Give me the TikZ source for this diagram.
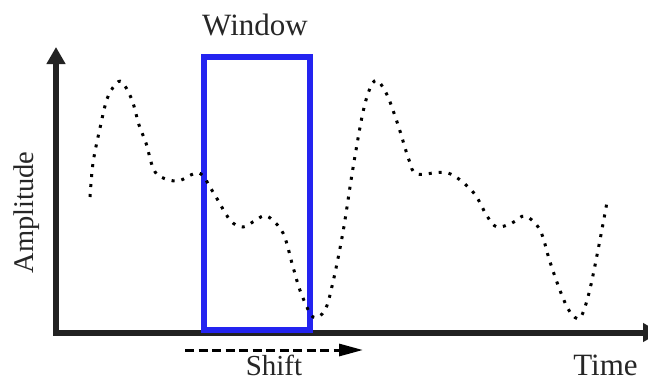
\documentclass[tikz,border=0pt]{standalone}
\usepackage{fontspec}
\setmainfont{Liberation Serif}
\usetikzlibrary{arrows.meta}
\definecolor{axisgray}{RGB}{34,34,34}
\definecolor{winblue}{RGB}{35,35,240}
\tikzset{
  axisline/.style={draw=axisgray, line width=6pt, line join=miter,
    {Triangle[length=17pt,width=18pt]}-{Triangle[length=17pt,width=18pt]}},
  windowbox/.style={draw=winblue, line width=6pt, line join=miter},
  signal/.style={draw=black, line width=3pt, dash pattern=on 3pt off 7pt},
  shiftarrow/.style={draw=black, line width=3pt, dash pattern=on 9pt off 4.5pt,
    -{Triangle[length=24pt,width=12pt]}},
  biglabel/.style={font=\fontsize{31}{36}\selectfont, text=black!85, inner sep=0pt, anchor=base, text depth=0pt},
  shiftlabel/.style={font=\fontsize{29}{34}\selectfont, text=black!85, inner sep=0pt, anchor=base, text depth=0pt},
  amplabel/.style={font=\fontsize{28.5}{34}\selectfont, text=black!85, inner sep=0pt, anchor=base, rotate=90}
}
\begin{document}
\begin{tikzpicture}[x=1pt,y=-1pt]
\clip (0,0) rectangle (648,381);
\fill[white] (0,0) rectangle (648,381);
% axes
\coordinate (ytip) at (56,47);
\coordinate (O) at (56,332.5);
\coordinate (xtip) at (660,332.5);
\draw[axisline] (ytip) -- (O) -- (xtip);
% window
\coordinate (wnw) at (204,56.5);
\coordinate (wse) at (309.5,330);
\draw[windowbox] (wnw) rectangle (wse);
% signal
\draw[signal] plot[smooth, tension=0.55] coordinates {
(90,197) (93,163) (100,128) (107,99) (115,85) (122,82) (132,100) (139,125)
(146,143) (153,168) (161,177) (178,181) (199,173) (213,192) (230,220) (243,227)
(256,220) (267,216) (283,233) (293,267) (301,293) (313,317) (325,310) (333,282)
(343,232) (353,168) (363,112) (371,86) (378,81) (388,97) (399,128) (409,160)
(417,174) (448,173) (473,192) (487,216) (497,227) (512,223) (525,216) (540,230)
(550,262) (561,293) (570,312) (580,318) (589,293) (599,245) (607,202)};
% shift arrow
\coordinate (sstart) at (185,350);
\coordinate (send) at (363,350);
\draw[shiftarrow] (sstart) -- (send);
% labels
\node[biglabel] (window) at (255,35) {Window};
\node[biglabel] (time) at (605.5,375) {Time};
\node[shiftlabel] (shift) at (274,375) {Shift};
\node[amplabel] (amp) at (33,212.5) {Amplitude};
\end{tikzpicture}
\end{document}
